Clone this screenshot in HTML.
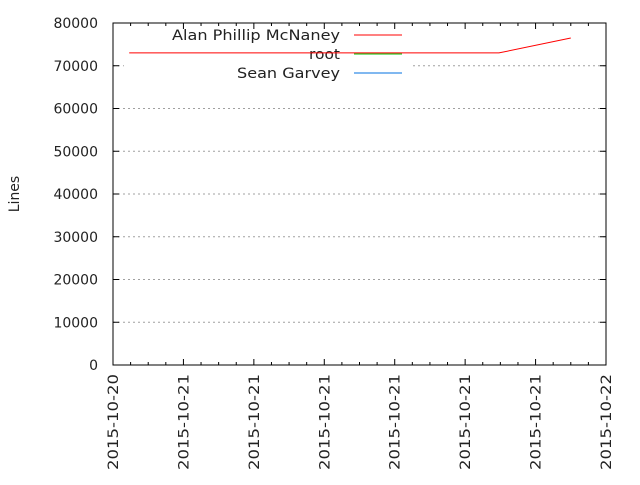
<!DOCTYPE html>
<html><head><meta charset="utf-8"><style>
body{margin:0;background:#fff;}
text{font-family:"DejaVu Sans","Liberation Sans",sans-serif;font-size:14px;fill:#222;}
</style></head><body>
<svg id="chart" width="640" height="480" xmlns="http://www.w3.org/2000/svg"></svg>
<script>
const xTickLabels=["2015-10-20","2015-10-21","2015-10-21","2015-10-21","2015-10-21","2015-10-21","2015-10-21","2015-10-22"];
const yTicks=[0,10000,20000,30000,40000,50000,60000,70000,80000];
const seriesNames=["Alan Phillip McNaney","root","Sean Garvey"];
const seriesColors=["#ff0000","#00c000","#0070e0"];
const legendWidths=[168,31,103];
const redX=[0.23,5.48,6.5];
const redY=[73000,73000,76500];
const L=113,R=606,T=23,B=365;
const xs=v=>L+v*(R-L)/7;
const ys=v=>B-v*(B-T)/80000;
const svg=document.getElementById('chart');
const NS="http://www.w3.org/2000/svg";
function mk(tag,attrs,parent){const e=document.createElementNS(NS,tag);for(const k in attrs)e.setAttribute(k,attrs[k]);(parent||svg).appendChild(e);return e;}
yTicks.forEach((v,i)=>{
  const y=ys(v);
  if(v>0&&v<80000){
    let g;
    if(y>27&&y<82){
      g=mk('line',{x1:L,x2:124,y1:y,y2:y,stroke:'#a0a0a0','stroke-dasharray':'2,3'});
      
      
      g=mk('line',{x1:413,x2:R,y1:y,y2:y,stroke:'#a0a0a0','stroke-dasharray':'2,3'});
    } else {
      g=mk('line',{x1:L,x2:R,y1:y,y2:y,stroke:'#a0a0a0','stroke-dasharray':'2,3'});
    }
    
    
  }
  const t=mk('line',{x1:L,x2:L+6,y1:y,y2:y,stroke:'#000'});
  
  
  const t2=mk('line',{x1:R-6,x2:R,y1:y,y2:y,stroke:'#000'});
  
  
  const lb=mk('text',{x:98,y:y+5,'text-anchor':'end'});lb.textContent=v;
  
  
});
for(let i=0;i<=28;i++){
  const x=L+i*(R-L)/28;const len=i%4===0?6:3;
  const t=mk('line',{x1:x,x2:x,y1:B,y2:B-len,stroke:'#000'});
  
  
  const t2=mk('line',{x1:x,x2:x,y1:T,y2:T+len,stroke:'#000'});
  
  
}
xTickLabels.forEach((s,i)=>{
  const x=xs(i)+5;
  const lb=mk('text',{x:x,y:374,'text-anchor':'end',transform:`rotate(-90 ${x} 374)`,textLength:96,lengthAdjust:'spacingAndGlyphs','font-size':'15'});lb.textContent=s;
  
  
});
const frame=mk('rect',{x:L,y:T,width:R-L,height:B-T,fill:'none',stroke:'#000'});


const yl=mk('text',{x:19,y:194,'text-anchor':'middle',transform:'rotate(-90 19 194)'});yl.textContent='Lines';


seriesNames.forEach((n,i)=>{
  const y=35+i*19;
  const t=mk('text',{x:340,y:y+5,'text-anchor':'end',textLength:legendWidths[i],lengthAdjust:'spacingAndGlyphs','font-size':'15'});t.textContent=n;
  
  
  const l=mk('line',{x1:354,x2:402,y1:y,y2:y,stroke:seriesColors[i]});
  
  
});
const pts=redX.map((x,i)=>xs(x)+','+ys(redY[i])).join(' ');
const p=mk('polyline',{points:pts,fill:'none',stroke:'#ff0000','stroke-width':1});


</script>
</body></html>
